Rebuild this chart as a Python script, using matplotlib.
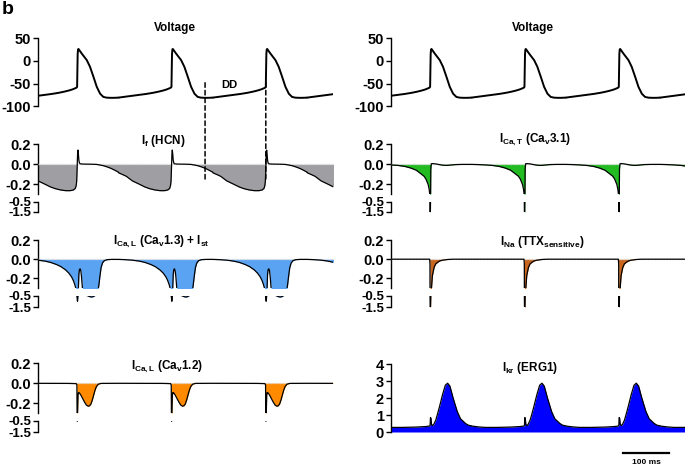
import numpy as np
import matplotlib
matplotlib.use("Agg")
import matplotlib.pyplot as plt
from matplotlib.patches import ConnectionPatch
from matplotlib.transforms import blended_transform_factory

plt.rcParams.update({
    "font.family": ["Liberation Sans", "DejaVu Sans"],
    "font.weight": "bold",
    "axes.unicode_minus": False,
    "mathtext.fontset": "custom",
    "mathtext.rm": "Liberation Sans:bold",
    "mathtext.it": "Liberation Sans:bold",
    "mathtext.bf": "Liberation Sans:bold",
    "mathtext.sf": "Liberation Sans:bold",
})

W, H = 685, 465

# ---------------- data ----------------
BEATS_MS = [85, 290, 495, 700]          # upstroke times
T_END_MS = 641
DD_LINES_MS = [363, 495]                # dashed markers (MDP, upstroke)
SCALE_START_MS = 504
SCALE_LEN_MS = 100

# one cycle, time relative to upstroke (ms)
V_TAU = [-115, -100, -85, -70, -55, -40, -28, -18, -10, -4, -1, 0, 0.6, 1.2, 2, 3,
         10, 21, 28, 35.5, 42.7, 50, 57, 64, 72, 80, 90]
V_MV = [-80.5, -78.5, -76.5, -74.5, -72.5, -70, -67.5, -65, -62.5, -60, -58.5, -57, -20, 15, 25, 26,
        16, 1.5, -13, -35, -57, -72, -79, -80.6, -81, -81, -80.6]

IF_TAU = [-115, -105, -98, -85, -69, -58, -47, -36, -25, -15, -8, -4, -2, -1, -0.4, 0.3, 1, 1.8,
          2.8, 3.8, 5, 7, 15, 30, 42, 50, 58, 66, 74, 82, 90]
IF_NA = [-0.085, -0.105, -0.12, -0.165, -0.2, -0.225, -0.243, -0.255, -0.262, -0.262, -0.255,
         -0.24, -0.21, -0.17, -0.1, 0.0, 0.1, 0.14, 0.1, 0.04, 0.012, 0.003, 0.001, 0.0, -0.002,
         -0.008, -0.016, -0.028, -0.042, -0.06, -0.08]

CAV13_TAU = [-115, -100, -85, -70, -58, -45, -35, -25, -18, -12, -8, -5, -3, -1.5, -0.3, 0.8, 1.8,
             2.8, 3.8, 5, 6.5, 8, 9.5, 11, 12.5, 15, 19, 23, 26, 29, 32, 35, 38, 41, 44, 47, 49.5,
             52, 55, 59, 65, 75, 90]
CAV13_NA = [-0.002, -0.005, -0.01, -0.02, -0.033, -0.055, -0.078, -0.112, -0.145, -0.185, -0.225,
            -0.265, -0.3, -0.42, -0.6, -1.0, -0.55, -0.3, -0.16, -0.11, -0.1, -0.12, -0.18, -0.27,
            -0.36, -0.44, -0.48, -0.52, -0.58, -0.62, -0.63, -0.6, -0.53, -0.45, -0.36, -0.28,
            -0.18, -0.09, -0.04, -0.015, -0.005, -0.002, -0.002]

CAV12_TAU = [-115, -20, -2, -0.5, 0.3, 1.0, 2, 3, 5, 8, 12, 16, 20, 24, 27, 30, 33, 36, 39, 42,
             46, 52, 90]
CAV12_NA = [-0.003, -0.004, -0.006, -0.02, -0.56, -0.3, -0.12, -0.095, -0.1, -0.12, -0.155, -0.19,
            -0.22, -0.232, -0.228, -0.21, -0.17, -0.12, -0.07, -0.035, -0.012, -0.004, -0.003]

CAV31_TAU = [-115, -100, -85, -70, -55, -42, -30, -20, -13, -9, -4.3, -2, -0.7, -0.3, 0, 0.4,
             0.9, 1.5, 2.5, 5, 12, 20, 28, 36, 45, 55, 70, 90]
CAV31_NA = [-0.002, -0.004, -0.007, -0.012, -0.022, -0.038, -0.06, -0.095, -0.12, -0.148, -0.2,
            -0.25, -0.3, -0.6, -2.0, -2.0, -0.4, -0.05, 0.004, 0.006, 0.003, -0.004, -0.01,
            -0.012, -0.008, -0.004, -0.002, -0.002]

NA_TAU = [-115, -1, -0.3, 0.2, 0.7, 1.5, 3, 5, 8.7, 12, 16, 21, 27, 38, 50, 90]
NA_NA = [0.0, 0.0, -0.05, -2.0, -2.0, -0.5, -0.3, -0.17, -0.085, -0.05, -0.033, -0.018, -0.01,
         -0.003, 0.0, 0.0]

IKR_TAU = [-115, -100, -85, -60, -30, -10, -1, 0, 0.8, 1.8, 3, 5.8, 8, 12.3, 16, 20, 27, 33, 38,
           43, 50, 59, 66, 77, 83, 90]
IKR_NA = [0.35, 0.3, 0.27, 0.27, 0.29, 0.32, 0.35, 0.4, 0.85, 0.8, 0.45, 0.38, 0.45, 0.7, 1.05,
          1.45, 2.2, 2.75, 2.87, 2.7, 2.0, 1.2, 0.78, 0.5, 0.4, 0.36]

V_TICKS = [50, 0, -50, -100]
I_TICKS_UP = [0.2, 0.0, -0.2]
I_TICKS_LOW = [-0.5, -1.5]
IKR_TICKS = [0, 1, 2, 3, 4]

TITLES = {
    "v": "Voltage",
    "if": r"I$_\mathrm{f}$ (HCN)",
    "cav13": r"I$_\mathrm{Ca,L}$ (Ca$_\mathrm{v}$1.3) + I$_\mathrm{st}$",
    "cav12": r"I$_\mathrm{Ca,L}$ (Ca$_\mathrm{v}$1.2)",
    "cav31": r"I$_\mathrm{Ca,T}$ (Ca$_\mathrm{v}$3.1)",
    "na": r"I$_\mathrm{Na}$ (TTX$_\mathrm{sensitive}$)",
    "ikr": r"I$_\mathrm{kr}$ (ERG1)",
}

COL = {
    "if": "#9f9fa3",
    "cav13": "#5aa2f2",
    "cav12": "#ff8a00",
    "cav31": "#22bb22",
    "na": "#c8661e",
    "ikr": "#0000ff",
}


def build(tau, vals):
    tau = np.asarray(tau, float)
    vals = np.asarray(vals, float)
    ts = np.concatenate([b + tau for b in BEATS_MS])
    ys = np.concatenate([vals for _ in BEATS_MS])
    return ts, ys


fig = plt.figure(figsize=(W / 100, H / 100), dpi=100)


def add_ax(x0, x1, ytop, ybot):
    return fig.add_axes([x0 / W, 1 - ybot / H, (x1 - x0) / W, (ybot - ytop) / H])


def style(ax, ylim, ticks, labels, size=10.5):
    ax.set_xlim(0, T_END_MS)
    ax.set_ylim(*ylim)
    for s in ["top", "right", "bottom"]:
        ax.spines[s].set_visible(False)
    ax.spines["left"].set_bounds(min(ticks + [ylim[0]]), max(ticks))
    ax.spines["left"].set_linewidth(1.0)
    ax.set_xticks([])
    ax.set_yticks(ticks)
    ax.set_yticklabels(labels)
    ax.tick_params(axis="y", direction="out", length=3.5, width=1.0, pad=1.5,
                   labelsize=size)
    for lab in ax.get_yticklabels():
        lab.set_fontweight("bold")
    ax.patch.set_alpha(0)


LEFT = (38, 333)
RIGHT = (391, 686)


def voltage_panel(xr):
    ax = add_ax(xr[0], xr[1], 38, 106.5)
    t, v = build(V_TAU, V_MV)
    ax.plot(t, v, color="black", lw=1.4, solid_joinstyle="round")
    style(ax, (-100, 50), V_TICKS, [str(x) for x in V_TICKS])
    return ax


def current_panel(xr, rows, tau, vals, color):
    (ut, ub), (lt, lb) = rows
    t, y = build(tau, vals)
    axu = add_ax(xr[0], xr[1], ut, ub)
    axl = add_ax(xr[0], xr[1], lt, lb)
    for ax in (axu, axl):
        ax.fill_between(t, np.minimum(y, 0), 0, color=color, lw=0, zorder=2)
        ax.plot(t, y, color="black", lw=0.9, zorder=4)
    axu.axhline(0, color="#d8d8d8", ls=(0, (1, 1.2)), lw=1.0, zorder=3)
    style(axu, (-0.3, 0.2), I_TICKS_UP, ["0.2", "0.0", "-0.2"])
    style(axl, (-1.5, -0.5), I_TICKS_LOW, ["-0.5", "-1.5"], size=9.5)
    axl.spines["left"].set_bounds(-1.5, -0.5)
    return axu, axl


# ---- left column ----
ax_v1 = voltage_panel(LEFT)
ax_if, _ = current_panel(LEFT, ((144, 194.5), (201.5, 212)), IF_TAU, IF_NA, COL["if"])
current_panel(LEFT, ((240, 288), (295.5, 307)), CAV13_TAU, CAV13_NA, COL["cav13"])
current_panel(LEFT, ((363, 413), (420.5, 432)), CAV12_TAU, CAV12_NA, COL["cav12"])

# ---- right column ----
voltage_panel(RIGHT)
current_panel(RIGHT, ((144, 194.5), (201.5, 212)), CAV31_TAU, CAV31_NA, COL["cav31"])
current_panel(RIGHT, ((240, 288), (295.5, 307)), NA_TAU, NA_NA, COL["na"])

ax_kr = add_ax(RIGHT[0], RIGHT[1], 364, 432)
t, y = build(IKR_TAU, IKR_NA)
ax_kr.fill_between(t, y, 0, color=COL["ikr"], lw=0)
ax_kr.plot(t, y, color="black", lw=0.9)
style(ax_kr, (0, 4), IKR_TICKS, [str(x) for x in IKR_TICKS])

# scale bar
tr = blended_transform_factory(ax_kr.transData, ax_kr.transAxes)
ax_kr.plot([SCALE_START_MS, SCALE_START_MS + SCALE_LEN_MS], [-0.31, -0.31], color="black",
           lw=1.6, transform=tr, clip_on=False)
ax_kr.text(SCALE_START_MS + SCALE_LEN_MS / 2, -0.465, "100 ms", transform=tr, ha="center",
           va="baseline", fontsize=6, fontweight="bold")

# DD dashed lines
for tdd in DD_LINES_MS:
    con = ConnectionPatch(xyA=(tdd, -48), coordsA="data", axesA=ax_v1,
                          xyB=(tdd, -0.16), coordsB="data", axesB=ax_if,
                          color="black", lw=1.1, ls=(0, (3, 2)))
    fig.add_artist(con)
ax_v1.text((DD_LINES_MS[0] + DD_LINES_MS[1]) / 2 - 13, -53, "DD", ha="center", va="center",
           fontsize=8, fontweight="bold")

# titles (pixel positions)
def ftext(x, y, s, size=8.5):
    fig.text(x / W, 1 - y / H, s, ha="center", va="center", fontsize=size, fontweight="bold")

ftext(175, 28, TITLES["v"])
ftext(163, 141, TITLES["if"])
ftext(161, 242, TITLES["cav13"])
ftext(167, 367, TITLES["cav12"])
ftext(533, 28, TITLES["v"])
ftext(535, 140, TITLES["cav31"])
ftext(542, 242, TITLES["na"])
ftext(530, 368, TITLES["ikr"])

fig.text(2 / W, 1 - 9 / H, "b", ha="left", va="center", fontsize=14, fontweight="bold")

fig.savefig("out.png", dpi=100)
